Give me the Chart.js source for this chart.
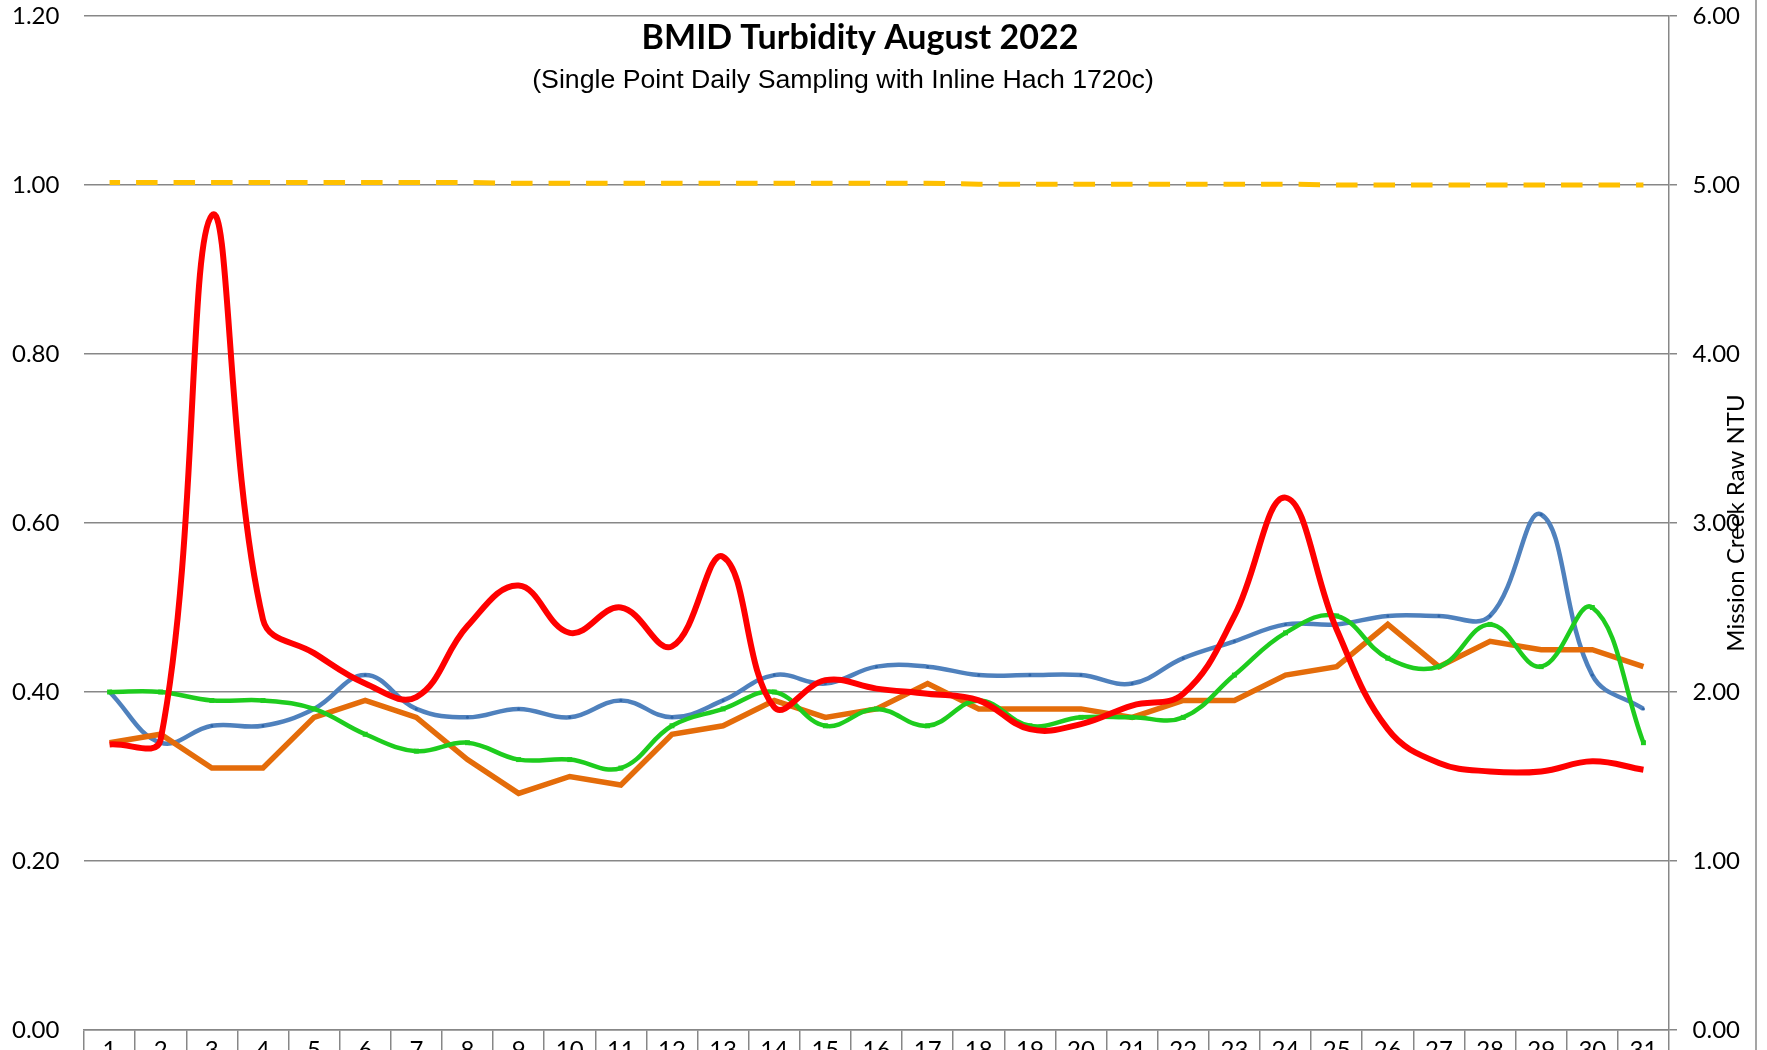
<!DOCTYPE html>
<html lang="en">
<head>
  <meta charset="UTF-8" />
  <title>BMID Turbidity August 2022</title>
  <script src="https://cdn.jsdelivr.net/npm/chart.js"></script>
  <style>
    body {
      margin: 0;
      background: #fff;
      overflow: hidden;
    }

    .wrap {
      position: relative;
      width: 1767px;
      height: 1050px;
    }
  </style>
</head>
<body>
  <div class="wrap">
    <canvas id="turbidity"></canvas>
  </div>

  <script>
    const days = ['1','2','3','4','5','6','7','8','9','10','11','12','13','14','15','16',
                  '17','18','19','20','21','22','23','24','25','26','27','28','29','30','31'];

    // left axis (filtered NTU)
    const blueSeries = [0.40,0.34,0.36,0.36,0.38,0.42,0.38,0.37,0.38,0.37,0.39,0.37,0.39,0.42,0.41,0.43,
                        0.43,0.42,0.42,0.42,0.41,0.44,0.46,0.48,0.48,0.49,0.49,0.49,0.61,0.42,0.38];
    const orangeSeries = [0.34,0.35,0.31,0.31,0.37,0.39,0.37,0.32,0.28,0.30,0.29,0.35,0.36,0.39,0.37,0.38,
                          0.41,0.38,0.38,0.38,0.37,0.39,0.39,0.42,0.43,0.48,0.43,0.46,0.45,0.45,0.43];
    const greenSeries = [0.40,0.40,0.39,0.39,0.38,0.35,0.33,0.34,0.32,0.32,0.31,0.36,0.38,0.40,0.36,0.38,
                         0.36,0.39,0.36,0.37,0.37,0.37,0.42,0.47,0.49,0.44,0.43,0.48,0.43,0.50,0.34];
    const limitSeries = [1.003,1.003,1.003,1.003,1.003,1.003,1.003,1.003,1.002,1.002,1.002,1.002,1.002,1.002,1.002,1.002,
                         1.002,1.001,1.001,1.001,1.001,1.001,1.001,1.001,1.000,1.000,1.000,1.000,1.000,1.000,1.000];

    // right axis (Mission Creek raw NTU)
    const redSeries = [1.69,1.72,4.82,2.43,2.23,2.05,1.97,2.39,2.63,2.35,2.50,2.27,2.80,1.91,2.07,2.02,
                       1.99,1.95,1.78,1.81,1.92,1.99,2.45,3.15,2.37,1.78,1.58,1.53,1.53,1.59,1.54];

    const leftTicks = [0, 1.2, 0.2];
    const rightTicks = [0, 6, 1];

    const chartTitle = 'BMID Turbidity August 2022';
    const chartSubtitle = '(Single Point Daily Sampling with Inline Hach 1720c)';
    const rightTitle = 'Mission Creek Raw NTU';

    const gridGray = '#878787';
    Chart.defaults.color = '#000';
    Chart.defaults.font.family = 'Lato';
    Chart.defaults.font.size = 24;

    // titles sit inside the plot area, and the right axis title overlaps its ticks
    const textPlugin = {
      id: 'textPlugin',
      afterDraw(chart) {
        const ctx = chart.ctx;
        const a = chart.chartArea;
        ctx.save();
        ctx.fillStyle = '#000';
        ctx.textAlign = 'center';
        ctx.textBaseline = 'middle';
        ctx.font = 'bold 34px Lato';
        ctx.fillText(chartTitle, 860, a.top + 22);
        ctx.font = '26.7px "Liberation Sans"';
        ctx.fillText(chartSubtitle, 843, a.top + 65);

        ctx.translate(1736, (a.top + a.bottom) / 2);
        ctx.rotate(-Math.PI / 2);
        ctx.font = '24px Lato';
        ctx.fillText(rightTitle, 0, 0);
        ctx.restore();

        // outer frame edge on the right
        ctx.save();
        ctx.strokeStyle = gridGray;
        ctx.lineWidth = 1.5;
        ctx.beginPath();
        ctx.moveTo(1756, 0);
        ctx.lineTo(1756, chart.height);
        ctx.stroke();
        ctx.restore();
      }
    };

    const ctx = document.getElementById('turbidity').getContext('2d');
    const chart = new Chart(ctx, {
      type: 'line',
      data: {
        labels: days,
        datasets: [
          {
            label: 'Mission Creek Raw',
            data: redSeries,
            yAxisID: 'y2',
            borderColor: '#FF0000',
            borderWidth: 6,
            tension: 0.4,
            pointRadius: 0
          },
          {
            label: 'Green',
            data: greenSeries,
            yAxisID: 'y',
            borderColor: '#1ECC1E',
            backgroundColor: '#1ECC1E',
            borderWidth: 4.5,
            tension: 0.4,
            pointStyle: 'rect',
            pointRadius: 3.5,
            pointBorderWidth: 0
          },
          {
            label: 'Orange',
            data: orangeSeries,
            yAxisID: 'y',
            borderColor: '#E46C0A',
            borderWidth: 5.5,
            tension: 0,
            pointRadius: 0
          },
          {
            label: 'Blue',
            data: blueSeries,
            yAxisID: 'y',
            borderColor: '#4F81BD',
            backgroundColor: '#2F65A8',
            borderWidth: 4.5,
            tension: 0.4,
            pointRadius: 1.5,
            pointBorderWidth: 0
          },
          {
            label: 'Limit',
            data: limitSeries,
            yAxisID: 'y',
            borderColor: '#FFC000',
            borderWidth: 5,
            borderDash: [21.5, 16],
            borderDashOffset: 11,
            borderCapStyle: 'butt',
            tension: 0,
            pointRadius: 0
          }
        ]
      },
      options: {
        responsive: true,
        maintainAspectRatio: false,
        animation: false,
        layout: {
          padding: { top: 16, left: 12, right: 27, bottom: 0 }
        },
        plugins: {
          legend: { display: false },
          tooltip: { enabled: false }
        },
        scales: {
          x: {
            type: 'category',
            offset: true,
            grid: {
              offset: true,
              drawOnChartArea: false,
              color: gridGray,
              lineWidth: 1.5,
              tickLength: 40
            },
            border: { display: true, color: gridGray, width: 1.5 },
            ticks: {
              autoSkip: false,
              maxRotation: 0,
              padding: -34
            },
            afterFit(scale) { scale.height = 20; }
          },
          y: {
            position: 'left',
            min: leftTicks[0],
            max: leftTicks[1],
            grid: {
              color: gridGray,
              lineWidth: 1.5,
              drawTicks: false
            },
            border: { display: false },
            ticks: {
              stepSize: leftTicks[2],
              padding: 0,
              crossAlign: 'far',
              callback: (v) => v.toFixed(2)
            },
            afterFit(scale) { scale.width = 72; }
          },
          y2: {
            position: 'right',
            min: rightTicks[0],
            max: rightTicks[1],
            grid: {
              drawOnChartArea: false,
              color: gridGray,
              lineWidth: 1.5,
              tickLength: 8
            },
            border: { display: true, color: gridGray, width: 1.5 },
            ticks: {
              stepSize: rightTicks[2],
              padding: 0,
              crossAlign: 'far',
              callback: (v) => v.toFixed(2)
            },
            afterFit(scale) { scale.width = 71; }
          }
        }
      },
      plugins: [textPlugin]
    });
  </script>
</body>
</html>
